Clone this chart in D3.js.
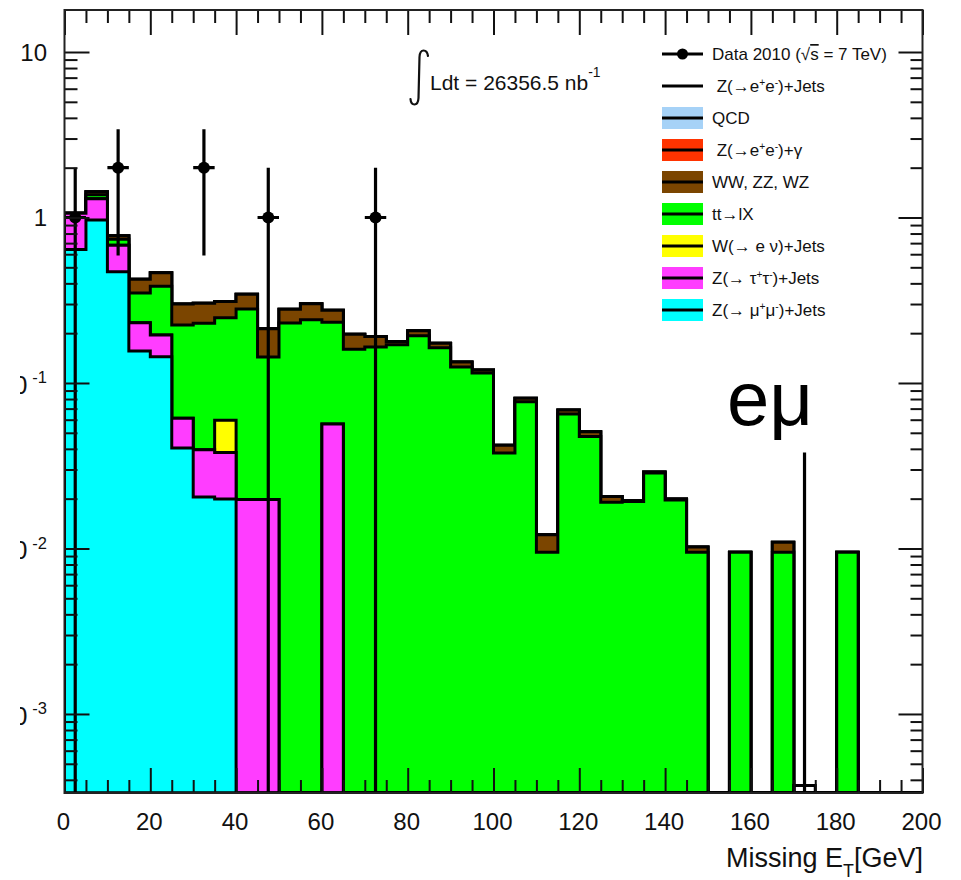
<!DOCTYPE html>
<html><head><meta charset="utf-8">
<script src="https://cdn.jsdelivr.net/npm/d3@7"></script>
<style>
body{margin:0;background:#fff}
text{font-family:"Liberation Sans",Arial,Helvetica,sans-serif;white-space:pre}
</style>
</head><body>
<svg id="chart" width="961" height="880"></svg>
<script>
// ---------- DATA ----------
const binLowEdges = [0,5,10,15,20,25,30,35,40,45,50,55,60,65,70,75,80,85,90,95,
                     100,105,110,115,120,125,130,135,140,145,150,155,160,165,170,175,180,185,190,195];
const binWidth = 5;
const zMuMuJets = [0.64,0.966,0.47,0.156,0.144,0.0405,0.0205,0.0199,0,0,
                   0,0,0,0,0,0,0,0,0,0, 0,0,0,0,0,0,0,0,0,0, 0,0,0,0,0,0,0,0,0,0];
const zTauTauJets = [0.42,0.334,0.21,0.075,0.051,0.0208,0.019,0.0181,0.0198,0.0198,
                     0,0,0.0565,0,0,0,0,0,0,0, 0,0,0,0,0,0,0,0,0,0, 0,0,0,0,0,0,0,0,0,0];
const wEnuJets = [0,0,0,0,0,0,0,0.0216,0,0, 0,0,0,0,0,0,0,0,0,0,
                  0,0,0,0,0,0,0,0,0,0, 0,0,0,0,0,0,0,0,0,0];
const ttbar = [0,0.07,0.058,0.119,0.189,0.163,0.19,0.188,0.26,0.124,
               0.23,0.241,0.1765,0.16,0.165,0.17,0.193,0.163,0.125,0.115,
               0.0378,0.077,0.0095,0.065,0.0475,0.019,0.0192,0.0286,0.0196,0.0095,
               0,0.0095,0,0.0095,0,0,0.0095,0,0,0];
const diboson = [0,0.06,0.037,0.073,0.08,0.076,0.074,0.063,0.064,0.069,
                 0.049,0.06,0.042,0.037,0.026,0.008,0.014,0.011,0.009,0.005,
                 0.0042,0.004,0.0026,0.0037,0.0033,0.0016,0.0002,0.0004,0.0003,0.0007,
                 0,0,0,0.0014,0,0,0,0,0,0];
const zeeGamma = [0,0,0,0,0,0,0,0,0,0, 0,0,0,0,0,0,0,0,0,0,
                  0,0,0,0,0,0,0,0,0,0, 0,0,0,0,0,0,0,0,0,0];
const qcd = [0,0,0,0,0,0,0,0,0,0, 0,0,0,0,0,0,0,0,0,0,
             0,0,0,0,0,0,0,0,0,0, 0,0,0,0,0,0,0,0,0,0];
const zeeJets = [0,0,0,0,0,0,0,0,0,0, 0,0,0,0,0,0,0,0,0,0,
                 0,0,0,0,0,0,0,0,0,0, 0,0,0,0,0.00037,0,0,0,0,0];

const dataCenters = [2.5,12.5,32.5,47.5,72.5,172.5];
const dataValues  = [1,2,2,1,1,0];
const dataErrUp   = [1,1.41,1.41,1,1,0.038];
const dataErrDown = [1,1.41,1.41,1,1,0];

const xTickValues = [0,20,40,60,80,100,120,140,160,180,200];
const xTickLabels = ["0","20","40","60","80","100","120","140","160","180","200"];
const yTickValues = [10,1,0.1,0.01,0.001];
const yTickLabels = ["10","1","10^{-1}","10^{-2}","10^{-3}"];

const legendLabels = ["Data 2010 (√s = 7 TeV)", " Z(→e^{+}e^{-})+Jets", "QCD", " Z(→e^{+}e^{-})+γ",
  "WW, ZZ, WZ", "tt→lX", "W(→ e ν)+Jets", "Z(→ τ^{+}τ^{-})+Jets", "Z(→ μ^{+}μ^{-})+Jets"];

// ---------- SETUP ----------
const svg = d3.select("#chart");
const P = {left:64.5, right:922.5, top:10, bottom:793};
const yMin = 3.33e-4, yMax = 17.94;
const x = d3.scaleLinear().domain([0,200]).range([P.left,P.right]);
const y = d3.scaleLog().domain([yMin,yMax]).range([P.bottom,P.top]);
const yc = v => v > yMin ? y(v) : P.bottom;

const colors = {zmumu:"#00ffff", ztautau:"#ff3dff", wenu:"#ffff00", tt:"#00ff00",
                diboson:"#7b4500", zeegamma:"#ff3300", qcd:"#a6d2f7"};

svg.append("defs").append("clipPath").attr("id","plotclip")
  .append("rect").attr("x",P.left).attr("y",P.top)
  .attr("width",P.right-P.left).attr("height",P.bottom-P.top);
svg.select("defs").append("clipPath").attr("id","labclip")
  .append("rect").attr("x",20).attr("y",0).attr("width",45).attr("height",880);

const layers = [
  {key:"zmumu", vals:zMuMuJets},
  {key:"ztautau", vals:zTauTauJets},
  {key:"wenu", vals:wEnuJets},
  {key:"tt", vals:ttbar},
  {key:"diboson", vals:diboson},
  {key:"zeegamma", vals:zeeGamma},
  {key:"qcd", vals:qcd}
];
const running = binLowEdges.map(()=>0);
layers.forEach(l => { l.cum = l.vals.map((v,i) => (running[i] += v)); });

const plotG = svg.append("g").attr("clip-path","url(#plotclip)");

function edgesOf(arr){
  const pts = binLowEdges.map((e,i)=>({e, v:arr[i]}));
  pts.push({e: binLowEdges[binLowEdges.length-1]+binWidth, v: arr[arr.length-1]});
  return pts;
}
const area = d3.area().curve(d3.curveStepAfter)
  .x(d=>x(d.e)).y0(P.bottom).y1(d=>yc(d.v));
const line = d3.line().curve(d3.curveStepAfter).x(d=>x(d.e)).y(d=>yc(d.v));

layers.slice().reverse().forEach(l => {
  plotG.append("path").attr("d", area(edgesOf(l.cum)))
    .attr("fill", colors[l.key]).attr("stroke","#000")
    .attr("stroke-width",3).attr("stroke-linejoin","miter");
});
plotG.append("path").attr("d", line(edgesOf(zeeJets)))
  .attr("fill","none").attr("stroke","#000").attr("stroke-width",3);

// data points
const dg = plotG.append("g");
dataCenters.forEach((c,i) => {
  const v = dataValues[i];
  dg.append("line").attr("x1",x(c)).attr("x2",x(c))
    .attr("y1", yc(v+dataErrUp[i])).attr("y2", yc(v-dataErrDown[i]))
    .attr("stroke","#000").attr("stroke-width",3.2);
  if (v > 0) {
    dg.append("line").attr("x1",x(c-binWidth/2)).attr("x2",x(c+binWidth/2))
      .attr("y1",y(v)).attr("y2",y(v)).attr("stroke","#000").attr("stroke-width",3.2);
    dg.append("circle").attr("cx",x(c)).attr("cy",y(v)).attr("r",6).attr("fill","#000");
  }
});

// ---------- AXES ----------
const yAll = y.ticks();
const yMinor = yAll.filter(v => !yTickValues.some(t => Math.abs(t-v)/t < 1e-6));
const xMinor = d3.range(0,201,5).filter(v => v % 20 !== 0);

function styleAxis(g){
  g.select(".domain").remove();
  g.selectAll(".tick line").attr("stroke","#111").attr("stroke-width",2);
  g.selectAll(".tick text").remove();
}
svg.append("g").attr("transform",`translate(${P.left},0)`)
  .call(d3.axisRight(y).tickValues(yTickValues).tickSize(25).tickFormat("")).call(styleAxis);
svg.append("g").attr("transform",`translate(${P.left},0)`)
  .call(d3.axisRight(y).tickValues(yMinor).tickSize(13).tickFormat("")).call(styleAxis);
svg.append("g").attr("transform",`translate(${P.right},0)`)
  .call(d3.axisLeft(y).tickValues(yTickValues).tickSize(24).tickFormat("")).call(styleAxis);
svg.append("g").attr("transform",`translate(${P.right},0)`)
  .call(d3.axisLeft(y).tickValues(yMinor).tickSize(12).tickFormat("")).call(styleAxis);
svg.append("g").attr("transform",`translate(0,${P.top})`)
  .call(d3.axisBottom(x).tickValues(xTickValues).tickSize(25).tickFormat("")).call(styleAxis);
svg.append("g").attr("transform",`translate(0,${P.top})`)
  .call(d3.axisBottom(x).tickValues(xMinor).tickSize(13).tickFormat("")).call(styleAxis);
svg.append("g").attr("transform",`translate(0,${P.bottom})`)
  .call(d3.axisTop(x).tickValues(xTickValues).tickSize(25).tickFormat("")).call(styleAxis);
svg.append("g").attr("transform",`translate(0,${P.bottom})`)
  .call(d3.axisTop(x).tickValues(xMinor).tickSize(13).tickFormat("")).call(styleAxis);

svg.append("rect").attr("x",P.left).attr("y",P.top)
  .attr("width",P.right-P.left).attr("height",P.bottom-P.top)
  .attr("fill","none").attr("stroke","#222").attr("stroke-width",2);

// rich text helper: ^{..} superscript, _{..} subscript
function rich(t, str, size, supScale=0.65, supRaise=0.42, subDrop=0.3, supGap=0){
  const parts = str.split(/(\^\{[^}]*\}|_\{[^}]*\})/).filter(s=>s.length);
  let cur = 0;
  parts.forEach(p => {
    let txt=p, fs=size, off=0, gap=0;
    if (p.startsWith("^{")) { txt=p.slice(2,-1); fs=size*supScale; off=-size*supRaise; gap=supGap; }
    else if (p.startsWith("_{")) { txt=p.slice(2,-1); fs=size*supScale; off=size*subDrop; }
    const ts = t.append("tspan").attr("font-size",fs).attr("dy",off-cur).text(txt);
    if (gap) ts.attr("dx", gap);
    cur = off;
  });
}

// y labels
const ylab = svg.append("g").attr("clip-path","url(#labclip)");
yTickValues.forEach((v,i) => {
  const hasExp = yTickLabels[i].includes("^");
  const t = ylab.append("text").attr("x",47).attr("y", y(v) + (hasExp?11:8.5))
    .attr("text-anchor","end").attr("fill","#111");
  rich(t, yTickLabels[i], hasExp?25:24, 0.66, 0.42, 0.3, 5);
});
// x labels
xTickValues.forEach((v,i) => {
  svg.append("text").attr("x",x(v)-1).attr("y",830).attr("text-anchor","middle")
    .attr("font-size",24).attr("fill","#111").text(xTickLabels[i]);
});
// x title
const xt = svg.append("text").attr("x",923).attr("y",867).attr("text-anchor","end").attr("fill","#111");
rich(xt, "Missing E_{T}[GeV]", 27, 0.66, 0.4, 0.36);

// luminosity: integral sign drawn as a thin stroke
const ip = d3.path();
ip.moveTo(428, 56);
ip.bezierCurveTo(427, 49, 420, 48, 419.5, 57);
ip.lineTo(418.5, 98);
ip.bezierCurveTo(418, 107, 411, 106, 410.5, 99);
svg.append("path").attr("d", ip.toString()).attr("fill","none")
  .attr("stroke","#111").attr("stroke-width",2.2).attr("stroke-linecap","round");
const lt = svg.append("text").attr("x",430).attr("y",90).attr("fill","#111");
rich(lt, "Ldt = 26356.5 nb^{-1}", 21, 0.66, 0.6);

// ---------- LEGEND ----------
const legendKinds = ["data","line","qcd","zeegamma","diboson","tt","wenu","ztautau","zmumu"];
const lg = svg.append("g");
legendLabels.forEach((lab,i) => {
  const cy = 54 + i*32;
  const k = legendKinds[i];
  if (k !== "data" && k !== "line") {
    lg.append("rect").attr("x",662).attr("y",cy-11).attr("width",41).attr("height",22)
      .attr("fill",colors[k]);
  }
  lg.append("line").attr("x1",662).attr("x2",703).attr("y1",cy).attr("y2",cy)
    .attr("stroke","#000").attr("stroke-width",3);
  if (k === "data") lg.append("circle").attr("cx",682.5).attr("cy",cy).attr("r",5.5).attr("fill","#000");
  const t = lg.append("text").attr("x",712).attr("y",cy+6).attr("fill","#111");
  if (k === "data") {
    t.append("tspan").attr("font-size",17).text("Data 2010 (√");
    t.append("tspan").attr("font-size",17).style("text-decoration","overline").text("s");
    t.append("tspan").attr("font-size",17).text(" = 7 TeV)");
  } else {
    rich(t, lab, 17, 0.6, 0.38);
  }
});

// annotation
svg.append("text").attr("x",727).attr("y",425).attr("font-family","Open Sans")
  .attr("font-size",76).attr("fill","#000").text("eμ");
</script>
</body></html>
